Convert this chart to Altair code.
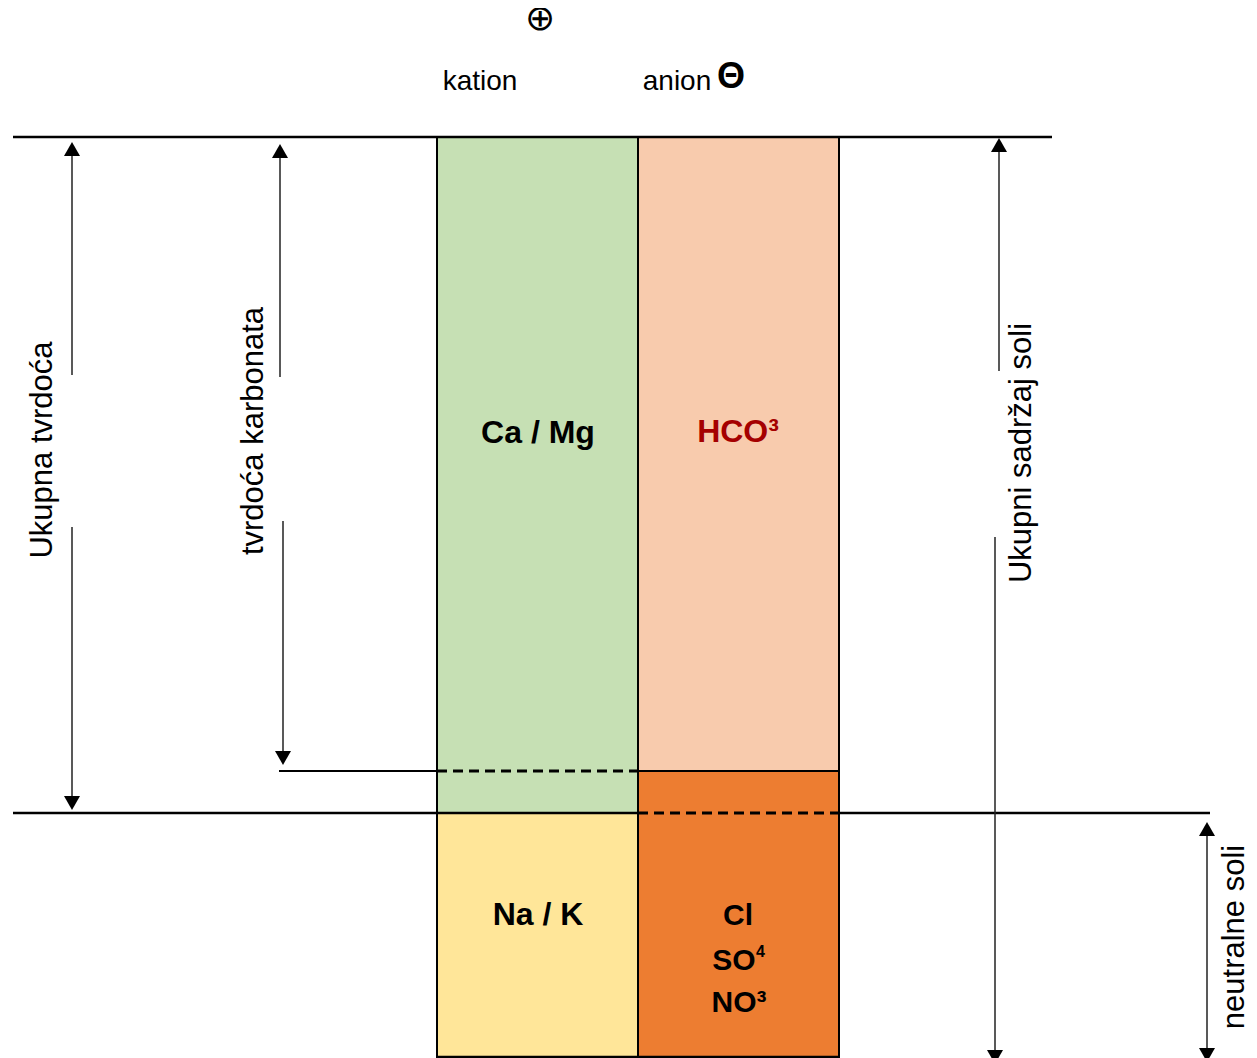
import altair as alt
import pandas as pd

# ---- diagram levels (diagram units: 0 = top, 1058 = bottom) ----
box_label = ["Ca / Mg", "Na / K", "HCO3", "Cl SO4 NO3"]
box_x0 = [437, 437, 638, 638]
box_x1 = [638, 638, 839, 839]
box_y0 = [137, 813, 137, 771]
box_y1 = [813, 1058, 771, 1058]
box_fill = ["#C6E0B4", "#FFE699", "#F8CBAD", "#ED7D31"]

# solid lines
line_x0 = [13, 13, 839, 279, 638, 437, 638, 839, 437]
line_x1 = [1052, 638, 1210, 437, 839, 437, 638, 839, 839]
line_y0 = [137, 813, 813, 771, 771, 137, 137, 137, 1057]
line_y1 = [137, 813, 813, 771, 771, 1058, 1058, 1058, 1057]
line_w = [2.5, 2.5, 2.5, 2, 2, 2, 2, 2, 2.5]

# dashed lines
dash_x0 = [437, 638]
dash_x1 = [638, 839]
dash_y = [771, 813]

# arrow shafts
shaft_x0 = [72, 72, 280, 283, 999, 995, 1207]
shaft_y0 = [150, 527, 151, 521, 145, 537, 829]
shaft_y1 = [375, 803, 377, 758, 371, 1060, 1060]

# arrow heads
head_x = [72, 72, 280, 283, 999, 995, 1207, 1207]
head_y = [149, 803, 151, 758, 145, 1057, 829, 1055]
head_dir = ["up", "down", "up", "down", "up", "down", "up", "down"]

# vertical labels
vlab_text = ["Ukupna tvrdoća", "tvrdoća karbonata", "Ukupni sadržaj soli", "neutralne soli"]
vlab_x = [52, 263, 1031, 1244]
vlab_y = [450, 431, 453, 937]

# header labels
hlab_text = ["kation", "anion"]
hlab_x = [480, 677]
hlab_y = [90, 90]

# bold box labels (large)
blab_text = ["Ca / Mg", "Na / K", "HCO³"]
blab_x = [538, 538, 738]
blab_y = [443, 925, 442]
blab_color = ["#000000", "#000000", "#A50000"]

# bold box labels (anion list)
alab_text = ["Cl", "SO", "NO³"]
alab_x = [738, 734, 739]
alab_y = [925, 970, 1012]

W, H = 1241, 1050
xs = alt.Scale(domain=[8, 8 + W], nice=False, zero=False)
ys = alt.Scale(domain=[8, 8 + H], nice=False, zero=False, reverse=True)
FONT = "Liberation Sans"


def X(f="x"):
    return alt.X(f"{f}:Q", scale=xs, axis=None)


def Y(f="y"):
    return alt.Y(f"{f}:Q", scale=ys, axis=None)


boxes = pd.DataFrame(dict(label=box_label, x=box_x0, x2=box_x1, y=box_y0, y2=box_y1, fill=box_fill))
rect = alt.Chart(boxes).mark_rect().encode(
    x=X(), x2="x2:Q", y=Y(), y2="y2:Q", color=alt.Color("fill:N", scale=None)
)

lines = pd.DataFrame(dict(x=line_x0, x2=line_x1, y=line_y0, y2=line_y1, w=line_w))
solid = alt.Chart(lines).mark_rule(color="#000000").encode(
    x=X(), x2="x2:Q", y=Y(), y2="y2:Q", strokeWidth=alt.StrokeWidth("w:Q", scale=None)
)

dashes = pd.DataFrame(dict(x=dash_x0, x2=dash_x1, y=dash_y))
dashed = alt.Chart(dashes).mark_rule(color="#000000", strokeWidth=3, strokeDash=[10, 6]).encode(
    x=X(), x2="x2:Q", y=Y()
)

shafts = pd.DataFrame(dict(x=shaft_x0, y=shaft_y0, y2=shaft_y1))
shaft = alt.Chart(shafts).mark_rule(color="#222222", strokeWidth=1.5).encode(
    x=X(), y=Y(), y2="y2:Q"
)

heads = pd.DataFrame(dict(x=head_x, y=head_y, d=head_dir))
head = alt.Chart(heads).mark_point(filled=True, size=256, opacity=1, color="#000000").encode(
    x=X(), y=Y(),
    shape=alt.Shape("d:N", scale=alt.Scale(domain=["up", "down"], range=["triangle-up", "triangle-down"]), legend=None),
)

vl = pd.DataFrame(dict(t=vlab_text, x=vlab_x, y=vlab_y))
vtext = alt.Chart(vl).mark_text(
    font=FONT, fontSize=31, angle=270, align="center", baseline="alphabetic", color="#000000"
).encode(x=X(), y=Y(), text="t:N")

hl = pd.DataFrame(dict(t=hlab_text, x=hlab_x, y=hlab_y))
htext = alt.Chart(hl).mark_text(
    font=FONT, fontSize=28, align="center", baseline="alphabetic", color="#000000"
).encode(x=X(), y=Y(), text="t:N")

bl = pd.DataFrame(dict(t=blab_text, x=blab_x, y=blab_y, c=blab_color))
btext = alt.Chart(bl).mark_text(
    font=FONT, fontSize=32, fontWeight="bold", align="center", baseline="alphabetic"
).encode(x=X(), y=Y(), text="t:N", color=alt.Color("c:N", scale=None))

al = pd.DataFrame(dict(t=alab_text, x=alab_x, y=alab_y))
atext = alt.Chart(al).mark_text(
    font=FONT, fontSize=30, fontWeight="bold", align="center", baseline="alphabetic", color="#000000"
).encode(x=X(), y=Y(), text="t:N")

sup = pd.DataFrame(dict(t=["4"], x=[756], y=[957]))
suptext = alt.Chart(sup).mark_text(
    font=FONT, fontSize=16, fontWeight="bold", align="left", baseline="alphabetic", color="#000000"
).encode(x=X(), y=Y(), text="t:N")

plus = pd.DataFrame(dict(t=["⊕"], x=[540], y=[19]))
plustext = alt.Chart(plus).mark_text(
    font="DejaVu Sans", fontSize=36, align="center", baseline="middle", color="#000000"
).encode(x=X(), y=Y(), text="t:N")

minus = pd.DataFrame(dict(t=["Θ"], x=[731], y=[88]))
minustext = alt.Chart(minus).mark_text(
    font=FONT, fontSize=36, fontWeight="bold", align="center", baseline="alphabetic", color="#000000"
).encode(x=X(), y=Y(), text="t:N")

chart = alt.layer(
    rect, solid, dashed, shaft, head, vtext, htext, btext, atext, suptext, plustext, minustext
).properties(
    width=W, height=H, padding=0, autosize=alt.AutoSizeParams(type="none")
).configure_view(stroke=None)

chart.save("out.html", embed_options={"renderer": "svg", "actions": False})
